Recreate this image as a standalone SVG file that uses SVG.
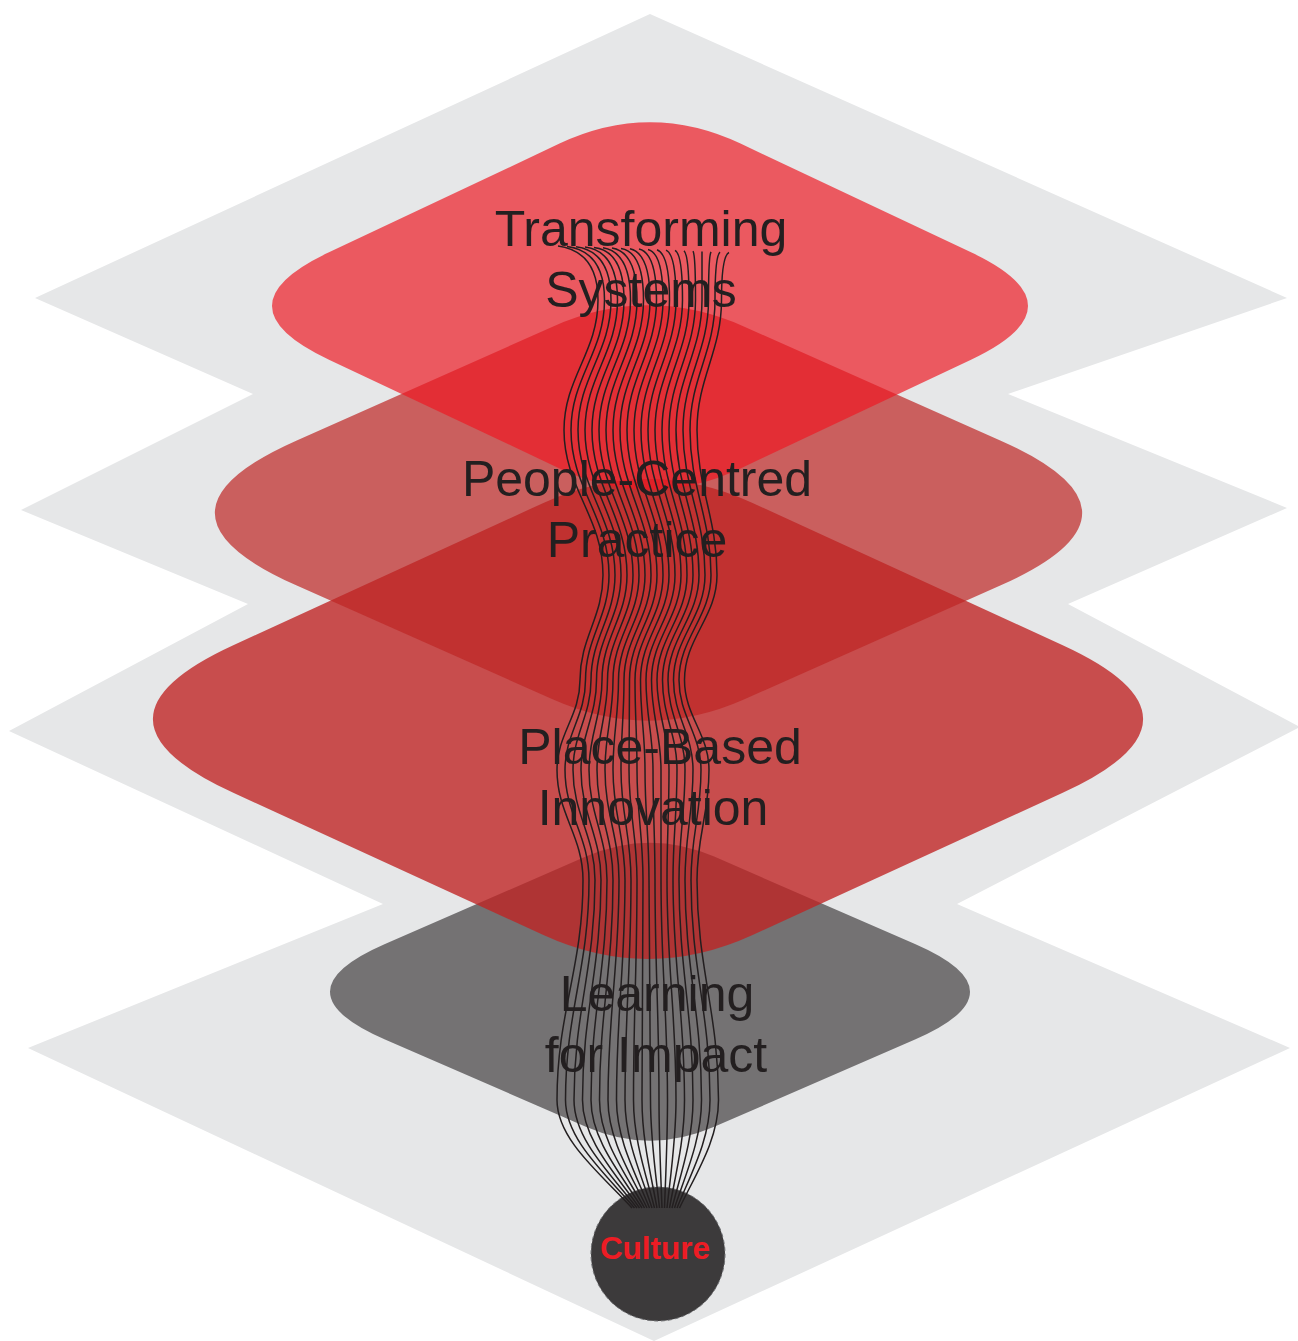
<svg xmlns="http://www.w3.org/2000/svg" width="1298" height="1341" viewBox="0 0 1298 1341">
<style>
.lbl{font-family:"Liberation Sans",Arial,sans-serif;font-size:50px;fill:#231f20;text-anchor:middle}
.strand{fill:none;stroke:#231f20;stroke-width:1.5}
</style>
<rect width="1298" height="1341" fill="#ffffff"/>
<g id="shadow">
<polygon fill="#e6e7e8" points="650,14 1287,298 1008,394 1287,508 1068,604 1300,727 957,904 1290,1048 654,1341 28,1048 383,904 9,731 248,604 21,510 253,394 35,298"/>
</g>
<g id="learning">
<path fill="#231f20" fill-opacity="0.585" d="M585.8,856.6 Q650,828.7 714.2,856.6 L915,943.9 Q1025,991.7 915,1039.5 L714.2,1126.8 Q650,1154.7 585.8,1126.8 L385,1039.5 Q275,991.7 385,943.9 Z"/>
</g>
<g id="place">
<path fill="#bf2323" fill-opacity="0.79" d="M543.4,502.9 Q648,455 752.6,502.9 L1062.2,644.9 Q1224,719 1062.2,793.1 L752.6,935.1 Q648,983 543.4,935.1 L233.8,793.1 Q72,719 233.8,644.9 Z"/>
</g>
<g id="people">
<path fill="#be2524" fill-opacity="0.7" d="M552.6,326.7 Q648.5,284 744.4,326.7 L1000.8,440.7 Q1163.5,513 1000.8,585.3 L744.4,699.3 Q648.5,742 552.6,699.3 L296.2,585.3 Q133.5,513 296.2,440.7 Z"/>
</g>
<g id="transforming">
<path fill="#ed1823" fill-opacity="0.69" d="M559.5,143.6 Q650,101 740.5,143.6 L971,252.3 Q1085,306 971,359.7 L740.5,468.4 Q650,511 559.5,468.4 L329,359.7 Q215,306 329,252.3 Z"/>
</g>
<g id="labels">
<text class="lbl" x="641" y="246">Transforming</text>
<text class="lbl" x="641" y="307">Systems</text>
<text class="lbl" x="637" y="496">People-Centred</text>
<text class="lbl" x="637" y="557">Practice</text>
<text class="lbl" x="660" y="764">Place-Based</text>
<text class="lbl" x="653" y="825">Innovation</text>
<text class="lbl" x="657" y="1011">Learning</text>
<text class="lbl" x="656" y="1072">for Impact</text>
</g>
<g id="culture">
<circle cx="658" cy="1254" r="67" fill="#3c3a3b" stroke="#6d6e71" stroke-width="1" stroke-dasharray="4 3"/>
</g>
<g id="connectors">
<path class="strand" d="M558,246 C586,250 598,270 598,300 C598,352 564,378 564,430 C564,488 603,517 603,575 C603,617 580,638 580,680 C580,716 557,734 557,770 C557,814 583,836 583,880 C583,968 557,1012 557,1100 C557,1140 602,1175 632,1208"/>
<path class="strand" d="M567,246.5 C593.3,250 604.5,270 604.5,300 C604.5,352 571,378 571,430 C571,488 609,517 609,575 C609,617 585.5,638 585.5,680 C585.5,716 565,734 565,770 C565,814 589,836 589,880 C589,968 565.5,1012 565.5,1100 C565.5,1140 606.9,1175 634.5,1208"/>
<path class="strand" d="M576,246.8 C600.5,250 611,270 611,300 C611,352 578,378 578,430 C578,488 615,517 615,575 C615,617 591,638 591,680 C591,716 573,734 573,770 C573,814 595,836 595,880 C595,968 574,1012 574,1100 C574,1140 611.8,1175 637,1208"/>
<path class="strand" d="M585,247.1 C607.8,250 617.5,270 617.5,300 C617.5,352 585,378 585,430 C585,488 621,517 621,575 C621,617 596.5,638 596.5,680 C596.5,716 581,734 581,770 C581,814 601,836 601,880 C601,968 582.5,1012 582.5,1100 C582.5,1140 616.7,1175 639.5,1208"/>
<path class="strand" d="M594,247.4 C615,250 624,270 624,300 C624,352 592,378 592,430 C592,488 627,517 627,575 C627,617 602,638 602,680 C602,716 589,734 589,770 C589,814 607,836 607,880 C607,968 591,1012 591,1100 C591,1140 621.6,1175 642,1208"/>
<path class="strand" d="M603,247.8 C622.3,251 630.5,270 630.5,300 C630.5,352 599,378 599,430 C599,488 633,517 633,575 C633,617 607.5,638 607.5,680 C607.5,716 597,734 597,770 C597,814 613,836 613,880 C613,968 599.5,1012 599.5,1100 C599.5,1140 626.5,1175 644.5,1208"/>
<path class="strand" d="M612,248.1 C629.5,251 637,270 637,300 C637,352 606,378 606,430 C606,488 639,517 639,575 C639,617 613,638 613,680 C613,716 605,734 605,770 C605,814 619,836 619,880 C619,968 608,1012 608,1100 C608,1140 631.4,1175 647,1208"/>
<path class="strand" d="M621,248.4 C636.8,251 643.5,270 643.5,300 C643.5,352 613,378 613,430 C613,488 645,517 645,575 C645,617 618.5,638 618.5,680 C618.5,716 613,734 613,770 C613,814 625,836 625,880 C625,968 616.5,1012 616.5,1100 C616.5,1140 636.3,1175 649.5,1208"/>
<path class="strand" d="M630,248.8 C644,252 650,270 650,300 C650,352 620,378 620,430 C620,488 651,517 651,575 C651,617 624,638 624,680 C624,716 621,734 621,770 C621,814 631,836 631,880 C631,968 625,1012 625,1100 C625,1140 641.2,1175 652,1208"/>
<path class="strand" d="M639,249.1 C651.3,252 656.5,270 656.5,300 C656.5,352 627,378 627,430 C627,488 657,517 657,575 C657,617 629.5,638 629.5,680 C629.5,716 629,734 629,770 C629,814 637,836 637,880 C637,968 633.5,1012 633.5,1100 C633.5,1140 646.1,1175 654.5,1208"/>
<path class="strand" d="M648,249.4 C658.5,252 663,270 663,300 C663,352 634,378 634,430 C634,488 663,517 663,575 C663,617 635,638 635,680 C635,716 637,734 637,770 C637,814 643,836 643,880 C643,968 642,1012 642,1100 C642,1140 651,1175 657,1208"/>
<path class="strand" d="M657,249.8 C665.8,253 669.5,270 669.5,300 C669.5,352 641,378 641,430 C641,488 669,517 669,575 C669,617 640.5,638 640.5,680 C640.5,716 645,734 645,770 C645,814 649,836 649,880 C649,968 650.5,1012 650.5,1100 C650.5,1140 655.9,1175 659.5,1208"/>
<path class="strand" d="M666,250.1 C673,253 676,270 676,300 C676,352 648,378 648,430 C648,488 675,517 675,575 C675,617 646,638 646,680 C646,716 653,734 653,770 C653,814 655,836 655,880 C655,968 659,1012 659,1100 C659,1140 660.8,1175 662,1208"/>
<path class="strand" d="M675,250.4 C680.3,253 682.5,270 682.5,300 C682.5,352 655,378 655,430 C655,488 681,517 681,575 C681,617 651.5,638 651.5,680 C651.5,716 661,734 661,770 C661,814 661,836 661,880 C661,968 667.5,1012 667.5,1100 C667.5,1140 665.7,1175 664.5,1208"/>
<path class="strand" d="M684,250.8 C687.5,254 689,270 689,300 C689,352 662,378 662,430 C662,488 687,517 687,575 C687,617 657,638 657,680 C657,716 669,734 669,770 C669,814 667,836 667,880 C667,968 676,1012 676,1100 C676,1140 670.6,1175 667,1208"/>
<path class="strand" d="M693,251.1 C694.8,254 695.5,270 695.5,300 C695.5,352 669,378 669,430 C669,488 693,517 693,575 C693,617 662.5,638 662.5,680 C662.5,716 677,734 677,770 C677,814 673,836 673,880 C673,968 684.5,1012 684.5,1100 C684.5,1140 675.5,1175 669.5,1208"/>
<path class="strand" d="M702,251.4 C702,254 702,270 702,300 C702,352 676,378 676,430 C676,488 699,517 699,575 C699,617 668,638 668,680 C668,716 685,734 685,770 C685,814 679,836 679,880 C679,968 693,1012 693,1100 C693,1140 680.4,1175 672,1208"/>
<path class="strand" d="M711,251.8 C709.3,255 708.5,270 708.5,300 C708.5,352 683,378 683,430 C683,488 705,517 705,575 C705,617 673.5,638 673.5,680 C673.5,716 693,734 693,770 C693,814 685,836 685,880 C685,968 701.5,1012 701.5,1100 C701.5,1140 685.3,1175 674.5,1208"/>
<path class="strand" d="M720,252.1 C716.5,255 715,270 715,300 C715,352 690,378 690,430 C690,488 711,517 711,575 C711,617 679,638 679,680 C679,716 701,734 701,770 C701,814 691,836 691,880 C691,968 710,1012 710,1100 C710,1140 690.2,1175 677,1208"/>
<path class="strand" d="M729,252.5 C723.8,255 721.5,270 721.5,300 C721.5,352 697,378 697,430 C697,488 717,517 717,575 C717,617 684.5,638 684.5,680 C684.5,716 709,734 709,770 C709,814 697,836 697,880 C697,968 718.5,1012 718.5,1100 C718.5,1140 695.1,1175 679.5,1208"/>
</g>
<g id="culture-label">
<text x="655" y="1259" font-family="Liberation Sans, Arial, sans-serif" font-size="31.5" font-weight="bold" fill="#ed1c24" text-anchor="middle">Culture</text>
</g>
</svg>
